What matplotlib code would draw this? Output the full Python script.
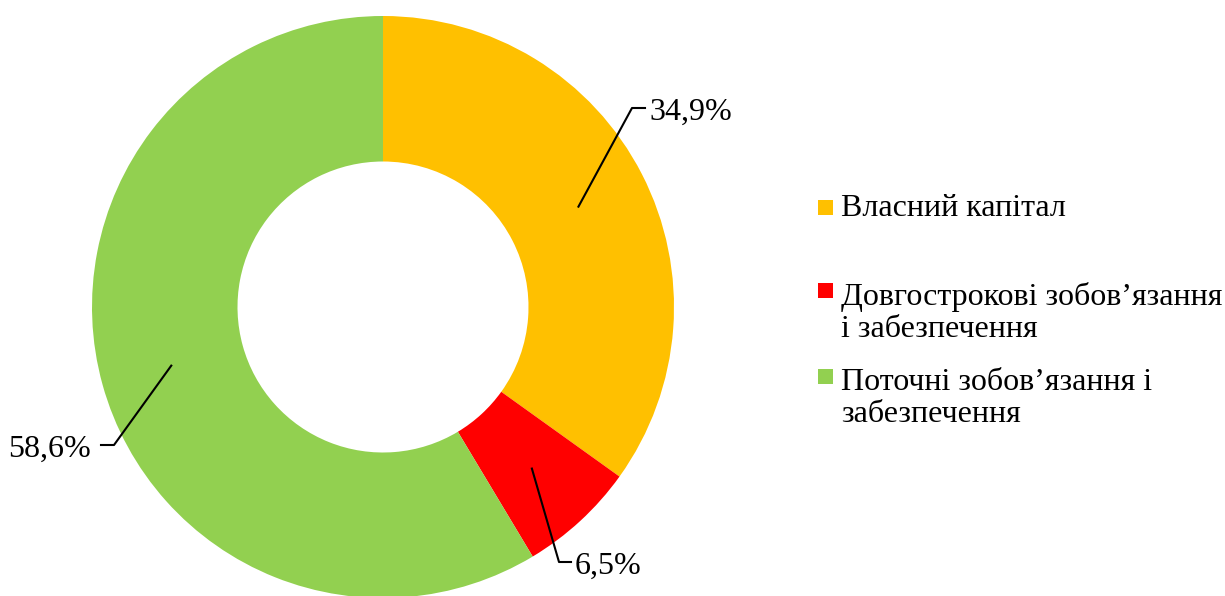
import numpy as np
from matplotlib import pyplot as plt
from matplotlib.patches import Rectangle

plt.rcParams['font.family'] = ['Liberation Serif', 'DejaVu Serif']

labels = ["Власний капітал",
          "Довгострокові зобов’язання\nі забезпечення",
          "Поточні зобов’язання і\nзабезпечення"]
shares = [34.9, 6.5, 58.6]
colors = ["#FFC000", "#FF0000", "#92D050"]

fig = plt.figure(figsize=(12.25, 5.96), dpi=100)
ax = fig.add_axes([0, 0, 1, 1])

cx, cy, R = 383, 289, 291
wedges, _ = ax.pie(shares, colors=colors, startangle=90, counterclock=False,
                   radius=R, center=(cx, cy), frame=True,
                   wedgeprops=dict(width=R * 0.5, linewidth=0))
ax.set_xlim(0, 1225)
ax.set_ylim(0, 596)
ax.set_aspect('equal')
ax.axis('off')

# leader line elbows and label ends (pixels, y up)
elbows = [(632, 488), (559, 34), (114, 151)]
ends = [(645, 488), (571, 34), (101, 151)]
fs = 23

for w, v, el, en in zip(wedges, shares, elbows, ends):
    ang = np.deg2rad((w.theta1 + w.theta2) / 2)
    x0 = cx + 0.755 * R * np.cos(ang)
    y0 = cy + 0.755 * R * np.sin(ang)
    ax.plot([x0, el[0], en[0]], [y0, el[1], en[1]], color="black", lw=1.5)
    txt = f"{v:.1f}%".replace('.', ',')
    if en[0] > el[0]:
        ax.text(en[0] + 4, en[1] - 4, txt, fontsize=fs, va='center', ha='left')
    else:
        ax.text(en[0] - 10, en[1] - 4, txt, fontsize=fs, va='center', ha='right')

# legend
leg_y = [389, 305.5, 219.5]
for lab, c, y in zip(labels, colors, leg_y):
    ax.add_patch(Rectangle((818, y - 7.5), 15, 15, color=c, lw=0))
    if "\n" in lab:
        ax.text(841, y + 8.5, lab, fontsize=fs, va='top', ha='left',
                linespacing=1.12)
    else:
        ax.text(841, y - 1, lab, fontsize=fs, va='center', ha='left')

fig.savefig("out.png", dpi=100)
